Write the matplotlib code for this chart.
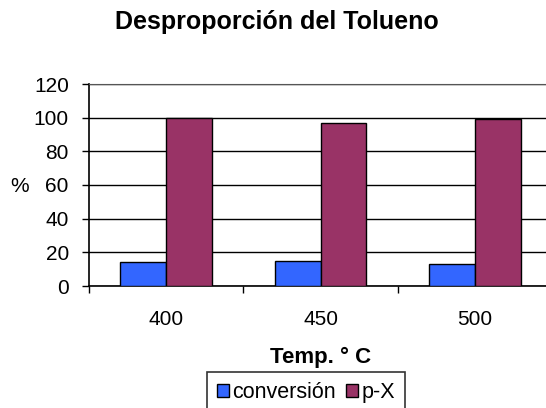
import matplotlib
matplotlib.use("Agg")
import matplotlib.pyplot as plt
from matplotlib.patches import Patch
import numpy as np

plt.rcParams['font.family'] = ['Liberation Sans', 'DejaVu Sans']

categories = ["400", "450", "500"]
conversion = [14.1, 15.0, 13.1]
px = [99.8, 96.6, 99.3]
series_names = ["conversión", "p-X"]
colors = ["#3366FF", "#993366"]
yticks = [0, 20, 40, 60, 80, 100, 120]

W, H = 546, 408
fig = plt.figure(figsize=(W / 100, H / 100), dpi=100)
ax = fig.add_axes([89 / W, 1 - 286 / H, (552 - 89) / W, (286 - 84) / H])

x = np.arange(len(categories))
bw = 0.297
ax.bar(x - bw / 2, conversion, bw, color=colors[0], edgecolor="black", linewidth=1.0, zorder=3)
ax.bar(x + bw / 2, px, bw, color=colors[1], edgecolor="black", linewidth=1.0, zorder=3)

ax.set_xlim(-0.5, len(categories) - 0.5)
ax.set_ylim(0, 120)
ax.set_yticks(yticks)
ax.set_yticklabels([str(v) for v in yticks])
ax.yaxis.grid(True, color="black", linewidth=1.0, zorder=1)
ax.set_axisbelow(True)

ax.set_xticks(np.arange(-0.5, len(categories), 1.0))
ax.set_xticklabels([])
ax.set_xticks(x, minor=True)
ax.set_xticklabels(categories, minor=True)
ax.tick_params(axis="x", which="major", direction="out", length=5, width=1, color="black")
ax.tick_params(axis="x", which="minor", length=0, pad=17, labelsize=15)
ax.tick_params(axis="y", direction="out", length=5, width=1, color="black", pad=9.5, labelsize=15)

ax.spines["right"].set_visible(False)
ax.spines["top"].set_color("#555555")
ax.spines["left"].set_color("black")
ax.spines["bottom"].set_color("black")
ax.spines["left"].set_linewidth(1.2)
ax.spines["bottom"].set_linewidth(1.2)

fig.text(277 / W, 1 - 22 / H, "Desproporción del Tolueno", ha="center", va="center",
         fontsize=18, fontweight="bold")
fig.text(20 / W, 1 - 187 / H, "%", ha="center", va="center", fontsize=15)
fig.text(321 / W, 1 - 357 / H, "Temp. ° C", ha="center", va="center",
         fontsize=16, fontweight="bold")

handles = [Patch(facecolor=c, edgecolor="black", linewidth=1.0) for c in colors]
leg = fig.legend(handles, series_names, loc="upper left",
                 bbox_to_anchor=(207 / W, 1 - 372 / H), bbox_transform=fig.transFigure,
                 ncol=2, fontsize=15.5, frameon=True, fancybox=False, shadow=False,
                 borderaxespad=0, borderpad=0.45, handlelength=0.55, handleheight=0.55,
                 handletextpad=0.15, columnspacing=0.5)
leg.get_frame().set_edgecolor("black")
leg.get_frame().set_linewidth(1.2)

fig.savefig("out.png", dpi=100)
